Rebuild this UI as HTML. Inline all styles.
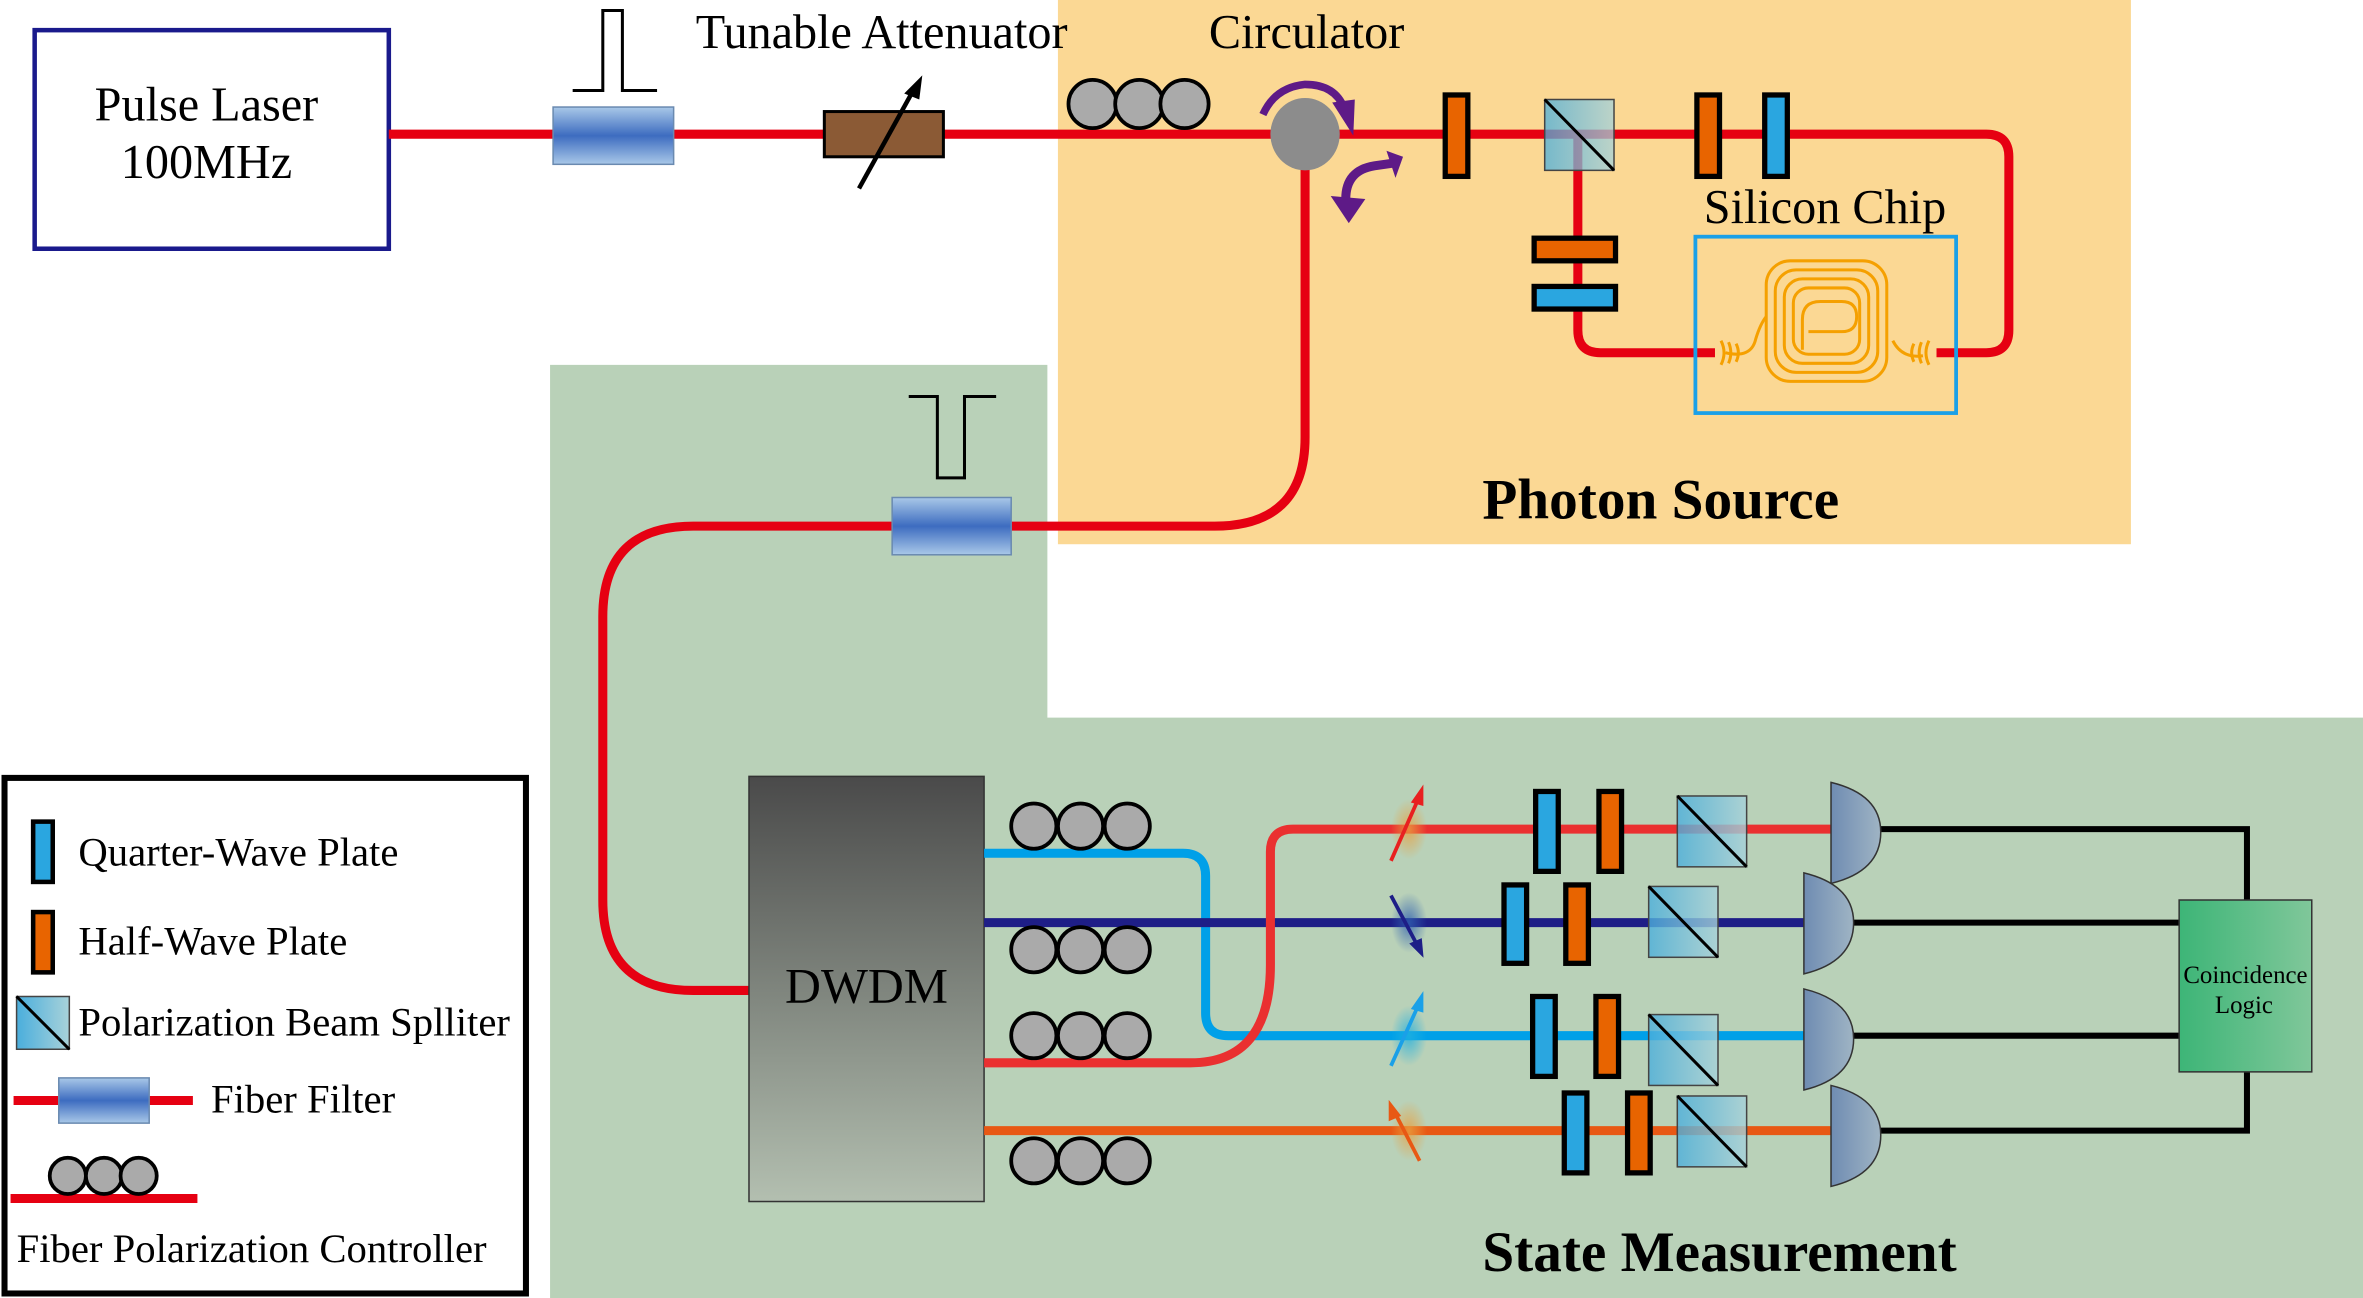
<!DOCTYPE html>
<html><head><meta charset="utf-8"><style>html,body{margin:0;padding:0;background:#fff}svg{display:block}text{font-family:"Liberation Serif",serif}</style></head><body>
<svg width="2363" height="1298" viewBox="0 0 1568 861" preserveAspectRatio="none" xmlns="http://www.w3.org/2000/svg">
<defs>
<linearGradient id="ff" x1="0" y1="0" x2="0" y2="1"><stop offset="0" stop-color="#a9c8e8"/><stop offset="0.5" stop-color="#3d6cc0"/><stop offset="1" stop-color="#a9c8e8"/></linearGradient>
<linearGradient id="pbs" x1="0" y1="0" x2="1" y2="0"><stop offset="0" stop-color="#4aaedc"/><stop offset="1" stop-color="#a8d2da"/></linearGradient>
<linearGradient id="dw" x1="0" y1="0" x2="0" y2="1"><stop offset="0" stop-color="#4a4a4a"/><stop offset="1" stop-color="#b3bfb0"/></linearGradient>
<linearGradient id="det" x1="0" y1="0" x2="1" y2="0"><stop offset="0" stop-color="#6f8cb2"/><stop offset="1" stop-color="#9fb4c4"/></linearGradient>
<linearGradient id="co" x1="0" y1="0" x2="1" y2="0"><stop offset="0" stop-color="#3db577"/><stop offset="1" stop-color="#80c79a"/></linearGradient>
<radialGradient id="gy"><stop offset="0" stop-color="#e8a040" stop-opacity="0.8"/><stop offset="1" stop-color="#e8a040" stop-opacity="0"/></radialGradient>
<radialGradient id="gb"><stop offset="0" stop-color="#3060b0" stop-opacity="0.8"/><stop offset="1" stop-color="#3060b0" stop-opacity="0"/></radialGradient>
<radialGradient id="gc"><stop offset="0" stop-color="#20b0e0" stop-opacity="0.8"/><stop offset="1" stop-color="#20b0e0" stop-opacity="0"/></radialGradient>
</defs>
<rect x="702" y="0" width="712" height="361" fill="#fbd894"/>
<path d="M365 242 H695 V476 H1568 V861 H365 Z" fill="#b9d1b8"/>
<rect x="23" y="20" width="235" height="145" fill="#fff" stroke="#1a1a8c" stroke-width="3"/>
<text x="137" y="80" font-size="32" text-anchor="middle">Pulse Laser</text>
<text x="137" y="118" font-size="32" text-anchor="middle">100MHz</text>
<text x="585" y="32" font-size="32" text-anchor="middle">Tunable Attenuator</text>
<text x="867" y="32" font-size="32" text-anchor="middle">Circulator</text>
<g fill="none" stroke="#e60012" stroke-width="6">
<path d="M258 89 H1318 Q1333 89 1333 104 V219 Q1333 234 1318 234 H1285"/>
<path d="M1047 89 V219 Q1047 234 1062 234 H1138"/>
<path d="M866 89 V290 Q866 349 806 349 H460 Q400 349 400 409 V597 Q400 657 460 657 H497"/>
</g>
<rect x="367" y="71" width="80" height="38" fill="url(#ff)" stroke="#6a8ab0"/>
<path d="M380 60 H400 V7 H413 V60 H436" fill="none" stroke="#000" stroke-width="2"/>
<rect x="592" y="330" width="79" height="38" fill="url(#ff)" stroke="#6a8ab0"/>
<path d="M603 263 H622 V317 H640 V263 H661" fill="none" stroke="#000" stroke-width="2"/>
<rect x="547" y="74" width="79" height="30" fill="#8b5a35" stroke="#000" stroke-width="2"/>
<line x1="570" y1="125" x2="606" y2="60" stroke="#000" stroke-width="3"/>
<path d="M612 50 L600 62 L610 66 Z" fill="#000"/>
<g fill="#aaa" stroke="#000" stroke-width="2.5"><circle cx="725" cy="69" r="16"/><circle cx="756" cy="69" r="16"/><circle cx="786" cy="69" r="16"/></g>
<ellipse cx="866" cy="89" rx="23" ry="24" fill="#8c8c8c"/>
<path d="M838 76 Q846 58 866 56 Q886 56 892 72" fill="none" stroke="#5e1a87" stroke-width="5"/>
<path d="M884 68 L898 90 L899 66 Z" fill="#5e1a87"/>
<path d="M893 132 Q893 113 912 110 L926 108" fill="none" stroke="#5e1a87" stroke-width="6"/>
<path d="M931 104 L920 100 L926 118 Z" fill="#5e1a87"/>
<path d="M883 130 L895 148 L906 132 Z" fill="#5e1a87"/>
<g stroke="#000" stroke-width="3.5">
<rect x="959" y="63" width="15" height="54" fill="#e86400"/>
<rect x="1126" y="63" width="15" height="54" fill="#e86400"/>
<rect x="1171" y="63" width="15" height="54" fill="#2aa6e0"/>
<rect x="1018" y="158" width="54" height="15" fill="#e86400"/>
<rect x="1018" y="190" width="54" height="15" fill="#2aa6e0"/>
</g>
<rect x="1025" y="66" width="46" height="47" fill="url(#pbs)" fill-opacity="0.75" stroke="#444"/>
<line x1="1025" y1="66" x2="1071" y2="113" stroke="#000" stroke-width="2"/>
<text x="1211" y="148" font-size="32" text-anchor="middle">Silicon Chip</text>
<rect x="1125" y="157" width="173" height="117" fill="none" stroke="#1aa0e8" stroke-width="2.5"/>
<g fill="none" stroke="#f5a000" stroke-width="2">
<rect x="1172" y="173" width="80" height="80" rx="16"/>
<rect x="1178" y="179" width="68" height="68" rx="14"/>
<rect x="1184" y="185" width="56" height="56" rx="12"/>
<rect x="1190" y="191" width="44" height="44" rx="10"/>
<path d="M1196 232 V212 Q1196 200 1208 200 H1222 Q1232 200 1232 210 Q1232 220 1222 220 H1200"/>
<path d="M1145 234 Q1162 238 1165 225 Q1168 215 1172 210"/>
<path d="M1276 236 Q1262 238 1256 226"/>
<path d="M1142 226 Q1146 234 1142 242 M1147 227 Q1150 234 1147 241 M1152 228 Q1155 234 1152 240"/>
<path d="M1280 226 Q1276 234 1280 242 M1275 227 Q1272 234 1275 241 M1270 228 Q1267 234 1270 240"/>
</g>
<text x="1102" y="344" font-size="38" font-weight="bold" text-anchor="middle">Photon Source</text>
<rect x="497" y="515" width="156" height="282" fill="url(#dw)" stroke="#333"/>
<text x="575" y="665" font-size="33" text-anchor="middle">DWDM</text>
<g fill="none" stroke-width="6">
<path d="M653 566 H785 Q800 566 800 581 V672 Q800 687 815 687 H1198" stroke="#00a0e8"/>
<path d="M653 612 H1198" stroke="#1e1e87"/>
<path d="M653 705 H790 Q843 705 843 640 V565 Q843 550 858 550 H1215" stroke="#ea3030"/>
<path d="M653 750 H1215" stroke="#e85814"/>
</g>
<g fill="#aaa" stroke="#000" stroke-width="2.5">
<circle cx="686" cy="548" r="15"/><circle cx="717" cy="548" r="15"/><circle cx="748" cy="548" r="15"/>
<circle cx="686" cy="630" r="15"/><circle cx="717" cy="630" r="15"/><circle cx="748" cy="630" r="15"/>
<circle cx="686" cy="687" r="15"/><circle cx="717" cy="687" r="15"/><circle cx="748" cy="687" r="15"/>
<circle cx="686" cy="770" r="15"/><circle cx="717" cy="770" r="15"/><circle cx="748" cy="770" r="15"/>
</g>
<ellipse cx="935" cy="550" rx="12" ry="20" fill="url(#gy)"/>
<ellipse cx="935" cy="612" rx="12" ry="20" fill="url(#gb)"/>
<ellipse cx="935" cy="687" rx="12" ry="20" fill="url(#gc)"/>
<ellipse cx="935" cy="750" rx="12" ry="20" fill="url(#gy)"/>
<g stroke-width="2.5" fill="none">
<path d="M923 571 L942 528" stroke="#e82020"/><path d="M944 522 L937 532 L944 534 Z" fill="#e82020" stroke="#e82020" stroke-width="1"/>
<path d="M923 594 L941 628" stroke="#1e1e87"/><path d="M944 634 L936 626 L943 623 Z" fill="#1e1e87" stroke="#1e1e87" stroke-width="1"/>
<path d="M923 707 L942 665" stroke="#1aa0e8"/><path d="M944 659 L937 669 L944 671 Z" fill="#1aa0e8" stroke="#1aa0e8" stroke-width="1"/>
<path d="M942 770 L925 737" stroke="#e85814"/><path d="M922 731 L929 740 L922 743 Z" fill="#e85814" stroke="#e85814" stroke-width="1"/>
</g>
<g stroke="#000" stroke-width="3.5">
<rect x="1019" y="525" width="15" height="53" fill="#2aa6e0"/><rect x="1061" y="525" width="15" height="53" fill="#e86400"/>
<rect x="998" y="587" width="15" height="52" fill="#2aa6e0"/><rect x="1039" y="587" width="15" height="52" fill="#e86400"/>
<rect x="1017" y="661" width="15" height="53" fill="#2aa6e0"/><rect x="1059" y="661" width="15" height="53" fill="#e86400"/>
<rect x="1038" y="725" width="15" height="53" fill="#2aa6e0"/><rect x="1080" y="725" width="15" height="53" fill="#e86400"/>
</g>
<g stroke="#444" fill="url(#pbs)" fill-opacity="0.8">
<rect x="1113" y="528" width="46" height="47"/><rect x="1094" y="588" width="46" height="47"/>
<rect x="1094" y="673" width="46" height="47"/><rect x="1113" y="727" width="46" height="47"/>
</g>
<g stroke="#000" stroke-width="2">
<line x1="1113" y1="528" x2="1159" y2="575"/><line x1="1094" y1="588" x2="1140" y2="635"/>
<line x1="1094" y1="673" x2="1140" y2="720"/><line x1="1113" y1="727" x2="1159" y2="774"/>
</g>
<g fill="none" stroke="#000" stroke-width="4">
<path d="M1245 550 H1491 V597"/><path d="M1227 612 H1446"/><path d="M1227 687 H1446"/><path d="M1245 750 H1491 V711"/>
</g>
<g fill="url(#det)" stroke="#333" stroke-width="1">
<path d="M1215 519 Q1248 527 1248 552 Q1248 578 1215 586 Z"/>
<path d="M1197 579 Q1230 587 1230 612 Q1230 638 1197 646 Z"/>
<path d="M1197 656 Q1230 664 1230 689 Q1230 715 1197 723 Z"/>
<path d="M1215 720 Q1248 728 1248 753 Q1248 779 1215 787 Z"/>
</g>
<rect x="1446" y="597" width="88" height="114" fill="url(#co)" stroke="#333"/>
<text x="1490" y="652" font-size="16.5" text-anchor="middle">Coincidence</text>
<text x="1489" y="672" font-size="16.5" text-anchor="middle">Logic</text>
<text x="1141" y="843" font-size="38" font-weight="bold" text-anchor="middle">State Measurement</text>
<rect x="3" y="516" width="346" height="342" fill="#fff" stroke="#000" stroke-width="4"/>
<rect x="22" y="545" width="13" height="40" fill="#2aa6e0" stroke="#000" stroke-width="3"/>
<text x="52" y="574" font-size="27">Quarter-Wave Plate</text>
<rect x="22" y="605" width="13" height="40" fill="#e86400" stroke="#000" stroke-width="3"/>
<text x="52" y="633" font-size="27">Half-Wave Plate</text>
<rect x="11" y="661" width="35" height="35" fill="url(#pbs)" stroke="#444"/>
<line x1="11" y1="661" x2="46" y2="696" stroke="#000" stroke-width="2"/>
<text x="52" y="687" font-size="27">Polarization Beam Splliter</text>
<line x1="9" y1="730" x2="128" y2="730" stroke="#e60012" stroke-width="6"/>
<rect x="39" y="715" width="60" height="30" fill="url(#ff)" stroke="#6a8ab0"/>
<text x="140" y="738" font-size="27">Fiber Filter</text>
<line x1="7" y1="795" x2="131" y2="795" stroke="#e60012" stroke-width="6"/>
<g fill="#aaa" stroke="#000" stroke-width="2.5"><circle cx="45" cy="780" r="12"/><circle cx="69" cy="780" r="12"/><circle cx="92" cy="780" r="12"/></g>
<text x="11" y="837" font-size="27">Fiber Polarization Controller</text>
</svg>
</body></html>
